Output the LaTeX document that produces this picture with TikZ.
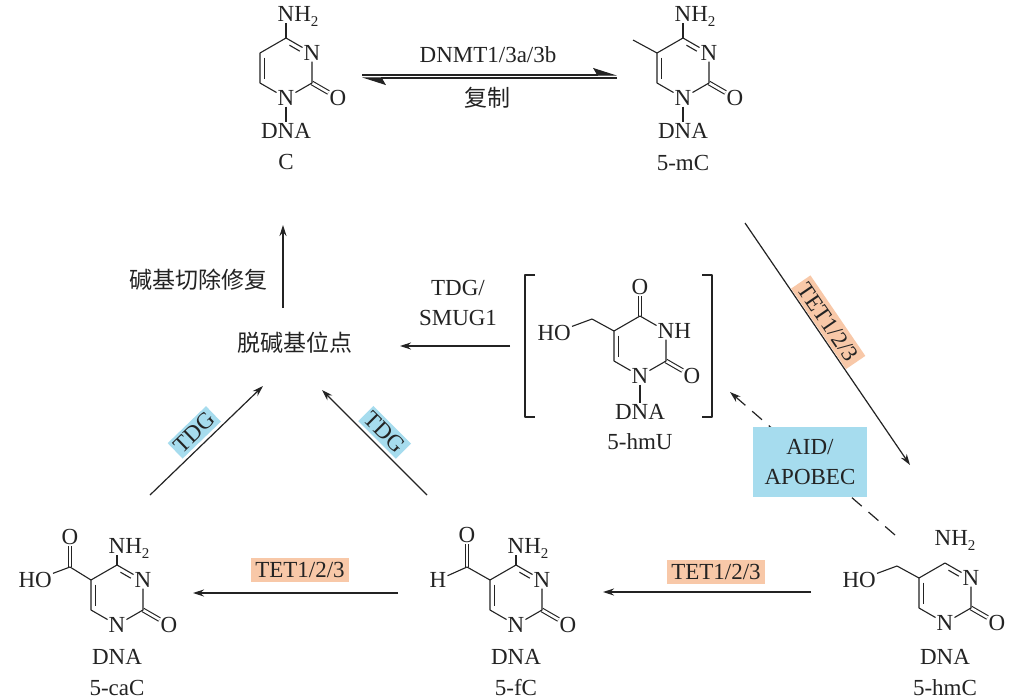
\documentclass[tikz,border=0pt]{standalone}
\usepackage{fontspec}
\setmainfont{Liberation Serif}
\newfontfamily\cjk{Noto Sans CJK SC}
\usetikzlibrary{arrows.meta,calc}
\definecolor{ink}{RGB}{35,35,35}
\definecolor{tetor}{RGB}{248,200,168}
\definecolor{tdgbl}{RGB}{166,220,238}
\newcommand\subtwo{\raisebox{-5pt}{\fontsize{15}{15}\selectfont 2}}
\tikzset{
  txt/.style={font=\fontsize{23}{30}\selectfont, text=ink, inner sep=1pt},
  atom/.style={txt},
  cjktxt/.style={font=\fontsize{23}{30}\selectfont\cjk, text=ink, inner sep=1pt},
  bond/.style={draw=ink, line width=1.1pt, line join=round},
  dbl/.style={draw=ink, line width=1.1pt, double=white, double distance=2.6pt},
  arr/.style={draw=ink, line width=1.2pt, -{Stealth[length=11pt,width=7pt]}},
  harp/.style={draw=ink, line width=1.2pt, -{Stealth[harpoon,length=22pt,width=14pt,inset=4pt]}},
  tagor/.style={txt, fill=tetor, inner xsep=4pt, inner ysep=4pt},
  tagbl/.style={txt, fill=tdgbl, inner xsep=3pt, inner ysep=3pt},
}
% pyrimidine ring skeleton: #1 prefix, #2 text at N3
\newcommand{\pyr}[2]{%
  \coordinate (#1T) at (0,-30);
  \coordinate (#1UL) at (-26,-15);
  \coordinate (#1LL) at (-26,15);
  \coordinate (#1LR) at (26,15);
  \node[atom] (#1N3) at (26,-15) {#2};
  \node[atom] (#1N1) at (0,30) {N};
  \node[atom] (#1O2) at (52,30) {O};
  \draw[dbl] (#1LR) -- (#1O2);
  \draw[bond] (#1N1) -- (#1LL) -- (#1UL) -- (#1T) -- (#1N3) -- (#1LR) -- (#1N1);
  \draw[bond] (-21.5,-10.5) -- (-21.5,10.5);
}
\newcommand{\cfourdbl}{\draw[bond] (3.45,-22.8) -- (13.85,-16.8);}
\begin{document}
\begin{tikzpicture}[x=1pt,y=-1pt]
\useasboundingbox[fill=white] (0,0) rectangle (1020,699);

% ---------- C ----------
\begin{scope}[shift={(286,68)}]
  \pyr{c}{N}
  \cfourdbl
  \node[atom] (cNH) at (0,-54) {N\rlap{\smash{H\subtwo}}};
  \draw[bond] (cT) -- (cNH);
  \node[atom] (cDNA) at (0,63) {DNA};
  \draw[bond] (cN1) -- (cDNA);
  \node[atom] (cname) at (0,94) {C};
\end{scope}

% ---------- 5-mC ----------
\begin{scope}[shift={(683,68)}]
  \pyr{m}{N}
  \cfourdbl
  \node[atom] (mNH) at (0,-54) {N\rlap{\smash{H\subtwo}}};
  \draw[bond] (mT) -- (mNH);
  \coordinate (mMe) at (-50,-28);
  \draw[bond] (mUL) -- (mMe);
  \node[atom] (mDNA) at (0,63) {DNA};
  \draw[bond] (mN1) -- (mDNA);
  \node[atom] (mname) at (0,95) {5-mC};
\end{scope}

% ---------- 5-hmU ----------
\begin{scope}[shift={(640,346)}]
  \node[atom] (uO4) at (0,-59) {O};
  \draw[dbl] (0,-30) -- (uO4);
  \pyr{u}{N\rlap{H}}
  \coordinate (uCH) at (-48,-27);
  \node[atom, anchor=east] (uHO) at (-68,-13) {HO};
  \draw[bond] (uUL) -- (uCH) -- (uHO);
  \node[atom] (uDNA) at (0,66) {DNA};
  \draw[bond] (uN1) -- (uDNA);
  \node[atom] (uname) at (0,96) {5-hmU};
\end{scope}
\draw[bond, line width=1.3pt] (535,275) -- (525,275) -- (525,417) -- (535,417);
\draw[bond, line width=1.3pt] (702,275) -- (712,275) -- (712,417) -- (702,417);

% ---------- 5-hmC ----------
\begin{scope}[shift={(945,593)}]
  \pyr{h}{N}
  \cfourdbl
  \node[atom] (hNH) at (-2,-55) {N\rlap{\smash{H\subtwo}}};
  \coordinate (hCH) at (-48,-27);
  \node[atom, anchor=east] (hHO) at (-68,-13) {HO};
  \draw[bond] (hUL) -- (hCH) -- (hHO);
  \node[atom] (hDNA) at (0,64) {DNA};
  \node[atom] (hname) at (0,95) {5-hmC};
\end{scope}

% ---------- 5-fC ----------
\begin{scope}[shift={(516,595)}]
  \pyr{f}{N}
  \cfourdbl
  \node[atom] (fNH) at (0,-49) {N\rlap{\smash{H\subtwo}}};
  \draw[bond] (fT) -- (fNH);
  \coordinate (fCc) at (-49,-28);
  \node[atom] (fO) at (-49,-60) {O};
  \node[atom] (fH) at (-78,-15) {H};
  \draw[dbl] (fCc) -- (fO);
  \draw[bond] (fUL) -- (fCc) -- (fH);
  \node[atom] (fDNA) at (0,62) {DNA};
  \node[atom] (fname) at (0,93) {5-fC};
\end{scope}

% ---------- 5-caC ----------
\begin{scope}[shift={(117,595)}]
  \pyr{a}{N}
  \cfourdbl
  \node[atom] (aNH) at (0,-49) {N\rlap{\smash{H\subtwo}}};
  \draw[bond] (aT) -- (aNH);
  \coordinate (aCc) at (-47,-28);
  \node[atom] (aO) at (-47,-58) {O};
  \node[atom, anchor=east] (aHO) at (-64,-15) {HO};
  \draw[dbl] (aCc) -- (aO);
  \draw[bond] (aUL) -- (aCc) -- (aHO);
  \node[atom] (aDNA) at (0,62) {DNA};
  \node[atom] (aname) at (0,93) {5-caC};
\end{scope}

% ---------- labels ----------
\node[cjktxt] (ap) at (295,343) {脱碱基位点};
\node[cjktxt] (ber) at (198,280) {碱基切除修复};
\node[txt, align=center] (smug) at (458,303) {TDG/\\SMUG1};

% ---------- arrows ----------
\coordinate (dnA) at (362,75);
\coordinate (dnB) at (617,75);
\coordinate (dnC) at (617,78);
\coordinate (dnD) at (362,78);
\draw[harp] (dnA) -- (dnB);
\draw[harp] (dnC) -- (dnD);
\node[txt] (dnmt) at (488,55) {DNMT1/3a/3b};
\node[cjktxt] (rep) at (487,98) {复制};

\coordinate (upA) at (283,308);
\coordinate (upB) at (283,225);
\draw[arr] (upA) -- (upB);

\coordinate (hmuA) at (510,346);
\coordinate (hmuB) at (400,346);
\draw[arr] (hmuA) -- (hmuB);

\coordinate (tetA) at (745,223);
\coordinate (tetB) at (910,465);
\draw[arr] (tetA) -- node[tagor, sloped, above=0.5pt, pos=0.44] (tetlab) {TET1/2/3} (tetB);

\coordinate (aidA) at (895,535);
\coordinate (aidB) at (730,392);
\draw[arr, dash pattern=on 13pt off 9pt] (aidA) -- (aidB);
\node[tagbl, minimum width=114pt, minimum height=70pt, align=center] (aid) at (810,462) {AID/\\APOBEC};

\coordinate (b1A) at (811,592);
\coordinate (b1B) at (603,592);
\draw[arr] (b1A) -- (b1B);
\node[tagor] (tet2) at (716,572) {TET1/2/3};

\coordinate (b2A) at (398,593);
\coordinate (b2B) at (193,593);
\draw[arr] (b2A) -- (b2B);
\node[tagor] (tet3) at (300,570) {TET1/2/3};

\coordinate (tdgA) at (150,495);
\coordinate (tdgB) at (263,386);
\draw[arr] (tdgA) -- node[tagbl, sloped, above=3pt, pos=0.48] (tdg1) {TDG} (tdgB);

\coordinate (tdgC) at (427,495);
\coordinate (tdgD) at (322,390);
\draw[arr] (tdgC) -- node[tagbl, sloped, above=3pt, pos=0.5] (tdg2) {TDG} (tdgD);
\end{tikzpicture}
\end{document}
